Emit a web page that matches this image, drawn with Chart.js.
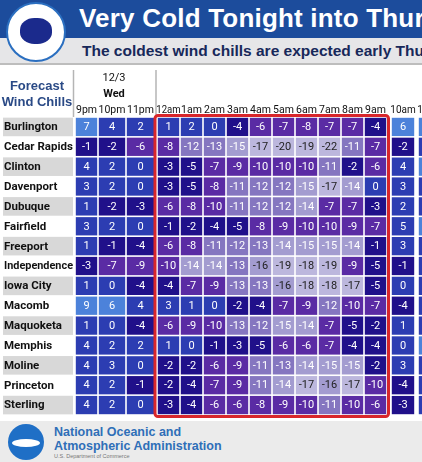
<!DOCTYPE html>
<html>
<head>
<meta charset="utf-8">
<script src="https://cdn.jsdelivr.net/npm/chart.js@4.4.0/dist/chart.umd.min.js"></script>
<style>
  body { margin: 0; width: 422px; height: 462px; overflow: hidden; background: #fff; font-family: "Liberation Sans", Arial, sans-serif; }
  #wrap { position: relative; width: 422px; height: 462px; }
  canvas { position: absolute; left: 0; top: 0; }
  .banner { position: absolute; left: 0; top: 0; width: 422px; height: 38px; background: #1c4c9c; }
  .banner h1 { position: absolute; left: 79px; top: 3px; margin: 0; color: #fff; font-size: 26px; font-weight: bold; white-space: nowrap; letter-spacing: 0.2px; }
  .sub { position: absolute; left: 0; top: 38px; width: 422px; height: 25px; background: #e6e6e8; border-bottom: 2px solid #bdbdbd; }
  .sub span { position: absolute; left: 82px; top: 4px; color: #17285a; font-size: 15.5px; font-weight: bold; white-space: nowrap; }
  .logo { position: absolute; left: 6px; top: 2px; width: 60px; height: 60px; border-radius: 50%; background: #fff; border: 2px solid #2b6fc0; box-sizing: border-box; }
  .logo::after { content: ""; position: absolute; left: 12px; top: 14px; width: 32px; height: 26px; border-radius: 45%; background: #1b2a8c; }
  .footer { position: absolute; left: 0; top: 421px; width: 422px; height: 41px; background: #ebebeb; }
  .noaa { position: absolute; left: 8px; top: 3px; width: 36px; height: 36px; border-radius: 50%; background: #1f6fc6; }
  .noaa::after { content: ""; position: absolute; left: 4px; top: 15px; width: 28px; height: 8px; border-radius: 50%; background: #fff; }
  .ft1 { position: absolute; left: 54px; top: 4px; color: #2f6fb8; font-size: 12.5px; font-weight: bold; line-height: 14px; }
  .ft2 { position: absolute; left: 54px; top: 32px; color: #777; font-size: 5.5px; }
</style>
</head>
<body>
<div id="wrap">
  <canvas id="WindChillChart" width="422" height="462"></canvas>
  <div class="banner"><h1>Very Cold Tonight into Thursday</h1></div>
  <div class="sub"><span>The coldest wind chills are expected early Thursday</span></div>
  <div class="logo"></div>
  <div class="footer">
    <div class="noaa"></div>
    <div class="ft1">National Oceanic and<br>Atmospheric Administration</div>
    <div class="ft2">U.S. Department of Commerce</div>
  </div>
</div>
<script>
const cities = ['Burlington', 'Cedar Rapids', 'Clinton', 'Davenport', 'Dubuque', 'Fairfield', 'Freeport',
    'Independence', 'Iowa City', 'Macomb', 'Maquoketa', 'Memphis', 'Moline', 'Princeton', 'Sterling'];
const hours = ['9pm', '10pm', '11pm', '12am', '1am', '2am', '3am', '4am', '5am', '6am', '7am', '8am', '9am', '10am', '11am'];
const dateLabel = '12/3';
const dayLabel = 'Wed';

// wind chill per city, one value per hour
const burlington   = [7, 4, 2, 1, 2, 0, -4, -6, -7, -8, -7, -7, -4, 6, 8];
const cedarRapids  = [-1, -2, -6, -8, -12, -13, -15, -17, -20, -19, -22, -11, -7, -2, 1];
const clinton      = [4, 2, 0, -3, -5, -7, -9, -10, -10, -10, -11, -2, -6, 4, 6];
const davenport    = [3, 2, 0, -3, -5, -8, -11, -12, -12, -15, -17, -14, 0, 3, 5];
const dubuque      = [1, -2, -3, -6, -8, -10, -11, -12, -12, -14, -7, -7, -3, 2, 4];
const fairfield    = [3, 2, 0, -1, -2, -4, -5, -8, -9, -10, -10, -9, -7, 5, 7];
const freeport     = [1, -1, -4, -6, -8, -11, -12, -13, -14, -15, -15, -14, -1, 3, 5];
const independence = [-3, -7, -9, -10, -14, -14, -13, -16, -19, -18, -19, -9, -5, -1, 2];
const iowaCity     = [1, 0, -4, -4, -7, -9, -13, -13, -16, -18, -18, -17, -5, 0, 3];
const macomb       = [9, 6, 4, 3, 1, 0, -2, -4, -7, -9, -12, -10, -7, -4, 1];
const maquoketa    = [1, 0, -4, -6, -9, -10, -13, -12, -15, -14, -7, -5, -2, 1, 4];
const memphis      = [4, 2, 2, 1, 0, -1, -3, -5, -6, -6, -7, -4, -4, 0, 7];
const moline       = [4, 3, 0, -2, -2, -6, -9, -11, -13, -14, -15, -15, -2, 3, 5];
const princeton    = [4, 2, -1, -2, -4, -7, -9, -11, -14, -17, -16, -17, -10, -4, 1];
const sterling     = [4, 2, 0, -3, -4, -6, -6, -8, -9, -10, -11, -10, -6, -3, 2];

const windChills = [burlington, cedarRapids, clinton, davenport, dubuque, fairfield, freeport,
    independence, iowaCity, macomb, maquoketa, memphis, moline, princeton, sterling];

// column edges along the x scale (layout, px from the grid's left edge); gaps around the 12am-9am block
const colEdges = [0, 23, 51, 80, 82, 105, 128, 151, 174, 197, 220, 243, 266, 289, 312, 316, 340, 343, 367];
function colRange(j) {
    let k = j;
    if (j >= 3) k = j + 1;
    if (j >= 13) k = 15 + (j - 13) * 2;
    return [colEdges[k] + 0.8, colEdges[k + 1] - 0.8];
}

function cellColor(v) {
    if (v >= 6) return '#4c82da';
    if (v >= 0) return '#2c3db2';
    if (v >= -5) return '#20108a';
    if (v >= -10) return '#5a2ba4';
    if (v >= -13) return '#8576c0';
    if (v >= -16) return '#a39cd0';
    return '#bcb7dd';
}

const tablePlugin = {
    id: 'tablePlugin',
    beforeDatasetsDraw(chart) {
        const ctx = chart.ctx;
        const y = chart.scales.y;
        const x = chart.scales.x;
        ctx.save();
        // row label backgrounds
        cities.forEach((c, i) => {
            const cy = y.getPixelForValue(i);
            if (i % 2 === 0) {
                ctx.fillStyle = '#d8d8d8';
                ctx.fillRect(3, cy - 9.3, 70, 18.6);
            }
            ctx.fillStyle = '#111';
            ctx.font = 'bold 11.5px "Roboto", sans-serif';
            ctx.textAlign = 'left';
            ctx.textBaseline = 'middle';
            ctx.fillText(c, 4, cy + 0.5, 69);
        });
        // header
        ctx.fillStyle = '#2a4a86';
        ctx.font = 'bold 13px "Liberation Sans", Arial, sans-serif';
        ctx.textAlign = 'center';
        ctx.fillText('Forecast', 37, 86);
        ctx.fillText('Wind Chills', 37, 102);
        ctx.fillStyle = '#111';
        ctx.font = '11px "Roboto", sans-serif';
        ctx.fillText(dateLabel, x.getPixelForValue(39), 78);
        ctx.font = 'bold 11px "Roboto", sans-serif';
        ctx.fillText(dayLabel, x.getPixelForValue(39), 94);
        ctx.font = '10.5px "Roboto", sans-serif';
        hours.forEach((h, j) => {
            const r = colRange(j);
            ctx.fillText(h, x.getPixelForValue((r[0] + r[1]) / 2), 110, r[1] - r[0] + 3);
        });
        ctx.strokeStyle = '#b5b5b5';
        ctx.lineWidth = 1.5;
        [x.getPixelForValue(0) - 1.5, x.getPixelForValue(81)].forEach(px => {
            ctx.beginPath();
            ctx.moveTo(px, 70);
            ctx.lineTo(px, 117);
            ctx.stroke();
        });
        ctx.restore();
    },
    afterDatasetsDraw(chart) {
        const ctx = chart.ctx;
        ctx.save();
        ctx.font = '11px "Roboto", sans-serif';
        ctx.textAlign = 'center';
        ctx.textBaseline = 'middle';
        chart.data.datasets.forEach((ds, j) => {
            chart.getDatasetMeta(j).data.forEach((el, i) => {
                const v = windChills[i][j];
                ctx.fillStyle = v <= -16 ? '#222' : '#fff';
                ctx.fillText(String(v), (el.x + el.base) / 2, el.y + 0.5);
            });
        });
        // highlight box around the coldest hours
        const x = chart.scales.x;
        const y = chart.scales.y;
        const left = x.getPixelForValue(colEdges[4]) - 2;
        const right = x.getPixelForValue(colEdges[14]) + 1.5;
        const top = y.getPixelForValue(0) - 11.5;
        const bottom = y.getPixelForValue(cities.length - 1) + 11.5;
        ctx.strokeStyle = '#d8262b';
        ctx.lineWidth = 3;
        ctx.beginPath();
        ctx.roundRect(left, top, right - left, bottom - top, 3);
        ctx.stroke();
        ctx.restore();
    }
};

new Chart(document.getElementById('WindChillChart').getContext('2d'), {
    type: 'bar',
    data: {
        labels: cities,
        datasets: hours.map((h, j) => ({
            label: h,
            data: cities.map(() => colRange(j)),
            backgroundColor: ctx => cellColor(windChills[ctx.dataIndex][j]),
            borderWidth: 0,
            grouped: false,
            barPercentage: 1,
            categoryPercentage: 0.92
        }))
    },
    options: {
        indexAxis: 'y',
        responsive: false,
        animation: false,
        devicePixelRatio: 1,
        layout: { padding: { left: 75, top: 117, right: 0, bottom: 47 } },
        scales: {
            x: { type: 'linear', min: 0, max: 347, display: false },
            y: { type: 'category', display: false, offset: true }
        },
        plugins: {
            legend: { display: false },
            tooltip: { enabled: false }
        }
    },
    plugins: [tablePlugin]
});
</script>
</body>
</html>
